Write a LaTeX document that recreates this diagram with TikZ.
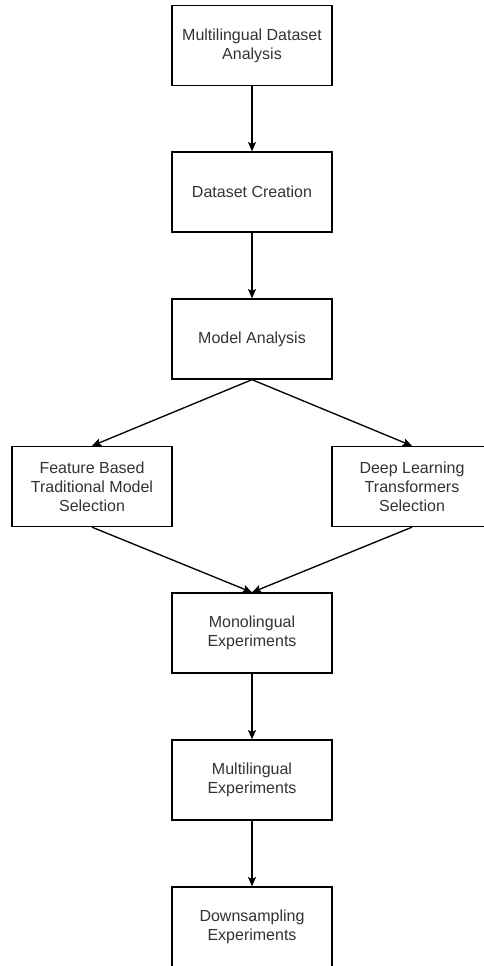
\documentclass[tikz,border=0pt]{standalone}
\usepackage{fontspec}
\setmainfont{Liberation Sans}
\usetikzlibrary{arrows.meta}
\begin{document}
\begin{tikzpicture}[x=0.75pt,y=-0.75pt,
  box/.style={draw=black, line width=1pt, fill=white, minimum width=120pt, minimum height=60pt,
    inner sep=0pt, align=center, text=black!80, font=\fontsize{12pt}{14.4pt}\selectfont},
  arr/.style={draw=black, line width=1pt, -{Stealth[length=7pt,width=6pt,inset=1.5pt]}}]
\useasboundingbox (0,0) rectangle (484,966);
\clip (0,0) rectangle (484,966);
\node[box] (mda) at (252,45.5) {Multilingual Dataset\\Analysis};
\node[box] (dc) at (252,192) {Dataset Creation};
\node[box] (ma) at (252,339) {Model Analysis};
\node[box] (fb) at (92,486.5) {Feature Based\\Traditional Model\\Selection};
\node[box] (dl) at (412,486.5) {Deep Learning\\Transformers\\Selection};
\node[box] (me) at (252,633) {Monolingual\\Experiments};
\node[box] (mu) at (252,780) {Multilingual\\Experiments};
\node[box] (ds) at (252,927) {Downsampling\\Experiments};
\draw[arr] (mda.south) -- (dc.north);
\draw[arr] (dc.south) -- (ma.north);
\draw[arr] (ma.south) -- (fb.north);
\draw[arr] (ma.south) -- (dl.north);
\draw[arr] (fb.south) -- (me.north);
\draw[arr] (dl.south) -- (me.north);
\draw[arr] (me.south) -- (mu.north);
\draw[arr] (mu.south) -- (ds.north);
\end{tikzpicture}
\end{document}
